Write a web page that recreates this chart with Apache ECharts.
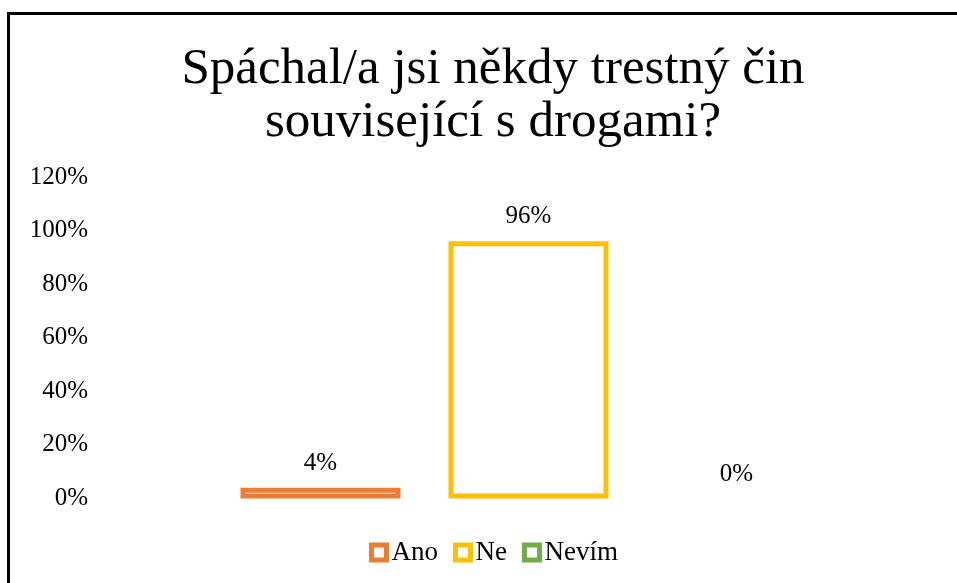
<!DOCTYPE html>
<html>
<head>
<meta charset="utf-8">
<script src="https://cdn.jsdelivr.net/npm/echarts@6/dist/echarts.min.js"></script>
<style>
  html, body { margin: 0; padding: 0; background: #fff; }
  #chart { width: 957px; height: 583px; }
</style>
</head>
<body>
<div id="chart"></div>
<script>
// data
const categories = [""];
const seriesNames = ["Ano", "Ne", "Nevím"];
const seriesValues = [[0.04], [0.96], [0]];
const seriesColors = ["#ED7D31", "#FFC000", "#70AD47"];
const yTicks = { min: 0, max: 1.2, interval: 0.2 };

const font = "'Liberation Serif', 'Times New Roman', serif";

const chart = echarts.init(document.getElementById("chart"));

const pct = v => Math.round(v * 100) + "%";

const option = {
  animation: false,
  backgroundColor: "#fff",
  title: {
    text: "Spáchal/a jsi někdy trestný čin\nsouvisející s drogami?",
    left: 488,
    top: 38,
    textAlign: "center",
    textStyle: {
      fontFamily: font,
      fontSize: 51,
      fontWeight: "normal",
      color: "#000",
      lineHeight: 53
    }
  },
  graphic: [{
    type: "rect",
    shape: { x: 8.5, y: 13.5, width: 1000, height: 700 },
    style: { fill: null, stroke: "#000", lineWidth: 3 },
    silent: true,
    z: 100
  }],
  legend: {
    left: 364,
    top: 534,
    itemWidth: 15,
    itemHeight: 15,
    itemGap: 15,
    textStyle: { fontFamily: font, fontSize: 27, color: "#000" },
    data: seriesNames.map((name, i) => ({
      name: name,
      icon: "rect",
      itemStyle: { color: "#fff", borderColor: seriesColors[i], borderWidth: 5 }
    }))
  },
  grid: {
    left: 100,
    right: 0,
    top: 177,
    bottom: 84.5
  },
  xAxis: {
    type: "category",
    data: categories,
    axisLine: { show: false },
    axisTick: { show: false },
    axisLabel: { show: false }
  },
  yAxis: {
    type: "value",
    min: yTicks.min,
    max: yTicks.max,
    interval: yTicks.interval,
    axisLine: { show: false },
    axisTick: { show: false },
    splitLine: { show: false },
    axisLabel: {
      margin: 12,
      fontFamily: font,
      fontSize: 25,
      color: "#000",
      formatter: pct
    }
  },
  series: seriesNames.map((name, i) => ({
    name: name,
    type: "bar",
    // a zero value draws no outline, as in the reference
    data: seriesValues[i].map(v => v === 0 ? { value: v, itemStyle: { borderWidth: 0, color: "transparent" } } : v),
    barWidth: 160,
    barGap: "30%",
    itemStyle: { color: "#fff", borderColor: seriesColors[i], borderWidth: 5 },
    label: {
      show: true,
      position: "top",
      distance: 12,
      fontFamily: font,
      fontSize: 25,
      color: "#000",
      formatter: p => pct(p.value)
    }
  }))
};

chart.setOption(option);
</script>
</body>
</html>
